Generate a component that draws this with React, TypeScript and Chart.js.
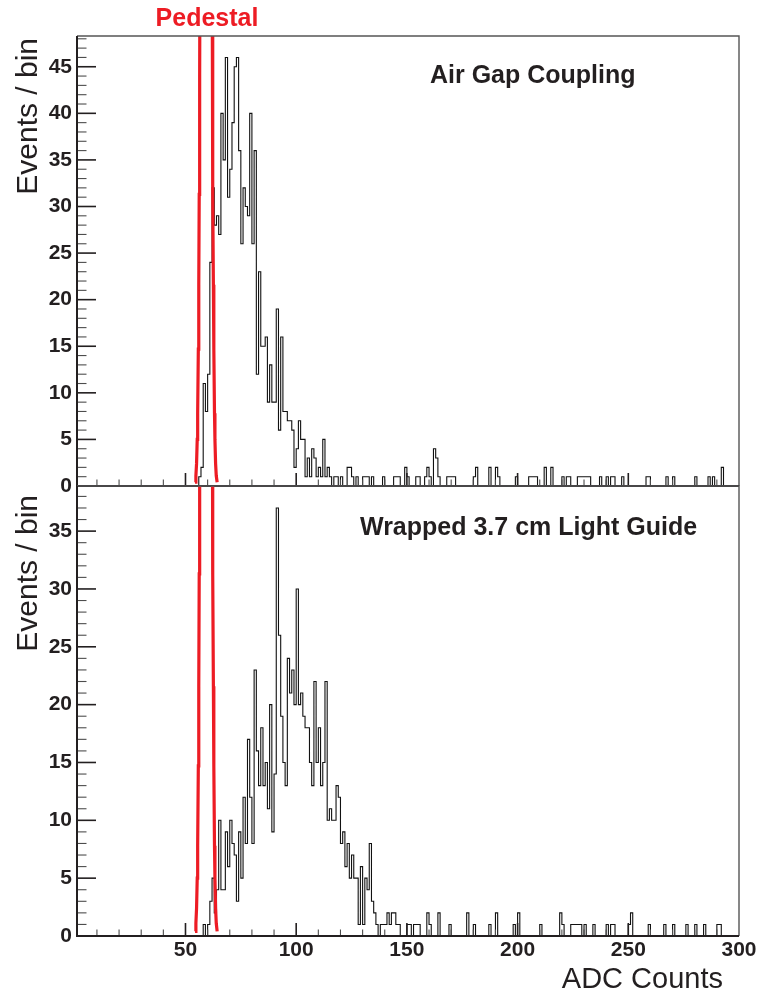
import React, { useEffect, useRef } from 'react';
import { Chart, registerables } from 'chart.js';

Chart.register(...registerables);

// ---------- axis ranges & tick labels ----------
const X_MIN = 1;
const X_MAX = 300;
const xTickLabels = [50, 100, 150, 200, 250, 300];
const yTicksTop = [0, 5, 10, 15, 20, 25, 30, 35, 40, 45];
const yTicksBottom = [0, 5, 10, 15, 20, 25, 30, 35];
const yMaxTop = 48.3;
const yMaxBottom = 38.9;

// ---------- Air Gap Coupling histogram (1 ADC count per bin) ----------
const airGapStart = 56;
const airGapCounts = [
  1, 2, 11, 8, 12, 24, 32, 28, 29, 27, // 56-65
  40, 35, 46, 31, 34, 39, 45, 46, 36, 26, // 66-75
  32, 30, 29, 40, 26, 36, 12, 23, 15, 15, // 76-85
  16, 9, 13, 9, 9, 19, 6, 16, 8, 8, // 86-95
  7, 7, 6, 2, 4, 7, 5, 5, 1, 3, // 96-105
  1, 4, 3, 1, 2, 1, 5, 1, 2, 1, // 106-115
  0, 1, 1, 0, 1, 0, 0, 2, 2, 1, // 116-125
  0, 1, 0, 0, 1, 1, 1, 0, 1, // 126-134
];
const airGapTailBins = [139, 144, 145, 146, 149, 150, 154, 155, 158, 159, 160, 162, 163, 164, 168, 169, 170, 171, 180, 181, 187, 190, 191, 199, 205, 206, 207, 208, 212, 215, 220, 222, 223, 227, 228, 229, 230, 231, 232, 237, 240, 242, 243, 247, 258, 259, 267, 270, 280, 286, 288, 292];
const airGapTailCounts = [1, 1, 1, 1, 2, 1, 1, 1, 1, 2, 1, 4, 3, 1, 1, 1, 1, 1, 1, 2, 2, 2, 1, 1, 1, 1, 1, 1, 2, 2, 1, 1, 1, 1, 1, 1, 1, 1, 1, 1, 1, 1, 1, 1, 1, 1, 1, 1, 1, 1, 1, 2];

// ---------- Wrapped 3.7 cm Light Guide histogram ----------
const lightGuideStart = 58;
const lightGuideCounts = [
  1, 0, 1, 3, 5, 2, 4, 10, 4, 4, // 58-67
  9, 6, 10, 8, 7, 3, 9, 5, 12, 8, // 68-77
  17, 12, 8, 23, 16, 13, 18, 13, 15, 11, // 78-87
  20, 9, 14, 37, 26, 19, 15, 13, 24, 21, // 88-97
  23, 20, 30, 20, 21, 19, 18, 18, 15, 13, // 98-107
  22, 15, 18, 13, 15, 22, 10, 11, 10, 10, // 108-117
  13, 12, 8, 9, 6, 8, 5, 7, 5, 5, // 118-127
  1, 6, 1, 5, 4, 8, 3, 2, 1, // 128-136
];
const lightGuideTailBins = [138, 139, 140, 141, 142, 143, 144, 145, 146, 150, 151, 153, 154, 155, 159, 160, 164, 169, 177, 180, 187, 190, 198, 200, 210, 219, 220, 224, 225, 226, 227, 228, 230, 234, 240, 242, 243, 250, 251, 259, 266, 270, 276, 280, 284, 290, 291];
const lightGuideTailCounts = [1, 1, 1, 2, 1, 2, 2, 1, 1, 1, 1, 1, 1, 1, 2, 1, 2, 1, 2, 1, 1, 2, 1, 2, 1, 2, 1, 1, 1, 1, 1, 1, 1, 1, 1, 1, 1, 1, 2, 1, 1, 1, 1, 1, 1, 1, 1];

// ---------- Pedestal fit curve ----------
const pedestalX = [54.3, 54.7, 55.0, 55.3, 55.5, 55.8, 56.0, 56.2, 56.4, 56.6, 57.0, 58.0, 59.3, 60.6, 61.6, 62.0, 62.2, 62.4, 62.6, 62.8, 63.1, 63.3, 63.6, 63.9, 64.3];
const pedestalY = [0.4, 1.1, 2.4, 5.0, 7.8, 14.7, 21.6, 31.3, 44.2, 60.9, 108, 304, 495, 304, 108, 60.9, 44.2, 31.3, 21.6, 14.7, 7.8, 5.0, 2.4, 1.1, 0.4];

const FONT = "'Liberation Sans', Arial, Helvetica, sans-serif";
const INK = '#231f20';
const RED = '#ed1c24';

function histogramPoints(start: number, counts: number[], tailBins: number[], tailCounts: number[]) {
  const bins: number[] = new Array(X_MAX - X_MIN).fill(0);
  counts.forEach((c, i) => { bins[start + i - X_MIN] = c; });
  tailBins.forEach((b, i) => { bins[b - X_MIN] = tailCounts[i]; });
  const pts = bins.map((c, i) => ({ x: X_MIN + i, y: c }));
  pts.push({ x: X_MAX, y: 0 });
  return pts;
}

type PanelSpec = {
  canvasTop: number;
  canvasHeight: number;
  padTop: number;
  xAxisHeight: number;
  yMax: number;
  yTicks: number[];
  showXLabels: boolean;
  hist: { x: number; y: number }[];
  texts: (ctx: CanvasRenderingContext2D) => void;
};

function drawRotated(ctx: CanvasRenderingContext2D, text: string, x: number, y: number) {
  ctx.save();
  ctx.translate(x, y);
  ctx.rotate(-Math.PI / 2);
  ctx.textAlign = 'right';
  ctx.textBaseline = 'alphabetic';
  ctx.fillText(text, 0, 0);
  ctx.restore();
}

function makeConfig(spec: PanelSpec): any {
  const framePlugin = {
    id: 'frameTicks',
    afterDatasetsDraw(chart: any) {
      const { ctx, chartArea: a, scales } = chart;
      const x = scales.x;
      const y = scales.y;
      ctx.save();
      // y ticks (inside, from left axis)
      for (let v = 0; v <= y.max; v += 1) {
        const py = y.getPixelForValue(v);
        const major = v % 5 === 0;
        ctx.strokeStyle = major ? INK : '#4d4d4d';
        ctx.lineWidth = major ? 1.6 : 1.1;
        ctx.beginPath();
        ctx.moveTo(a.left, py);
        ctx.lineTo(a.left + (major ? 19 : 9.5), py);
        ctx.stroke();
      }
      // x ticks (inside, from bottom axis)
      for (let v = 10; v < X_MAX; v += 10) {
        const px = x.getPixelForValue(v);
        const major = v % 50 === 0;
        ctx.strokeStyle = major ? INK : '#4d4d4d';
        ctx.lineWidth = major ? 1.6 : 1.1;
        ctx.beginPath();
        ctx.moveTo(px, a.bottom);
        ctx.lineTo(px, a.bottom - (major ? 13 : 6.5));
        ctx.stroke();
      }
      // frame: top & right thin grey
      ctx.strokeStyle = '#555555';
      ctx.lineWidth = 1.4;
      ctx.beginPath();
      ctx.moveTo(a.left, a.top);
      ctx.lineTo(a.right, a.top);
      ctx.lineTo(a.right, a.bottom);
      ctx.stroke();
      // axes: left & bottom dark
      ctx.strokeStyle = INK;
      ctx.lineWidth = 2;
      ctx.beginPath();
      ctx.moveTo(a.left, a.top);
      ctx.lineTo(a.left, a.bottom);
      ctx.lineTo(a.right, a.bottom);
      ctx.stroke();
      ctx.restore();
    },
    afterDraw(chart: any) {
      const ctx = chart.ctx as CanvasRenderingContext2D;
      ctx.save();
      spec.texts(ctx);
      ctx.restore();
    },
  };

  return {
    type: 'line',
    data: {
      datasets: [
        {
          label: 'Pedestal',
          data: pedestalX.map((px, i) => ({ x: px, y: pedestalY[i] })),
          borderColor: RED,
          borderWidth: 3.2,
          pointRadius: 0,
          tension: 0,
          fill: false,
        },
        {
          label: 'Events',
          data: spec.hist,
          borderColor: '#111111',
          borderWidth: 1.1,
          pointRadius: 0,
          stepped: 'before',
          fill: false,
        },
      ],
    },
    options: {
      responsive: false,
      maintainAspectRatio: false,
      animation: false,
      devicePixelRatio: 1,
      events: [],
      layout: { padding: { top: spec.padTop, right: 22, left: 0, bottom: 0 } },
      plugins: { legend: { display: false }, tooltip: { enabled: false }, title: { display: false } },
      scales: {
        x: {
          type: 'linear',
          min: X_MIN,
          max: X_MAX,
          grid: { display: false, drawTicks: false },
          border: { display: false },
          ticks: {
            display: spec.showXLabels,
            color: INK,
            padding: 2,
            maxRotation: 0,
            autoSkip: false,
            font: { family: FONT, size: 21, weight: 'bold' },
          },
          afterBuildTicks: (s: any) => { s.ticks = xTickLabels.map((v) => ({ value: v })); },
          afterFit: (s: any) => { s.height = spec.xAxisHeight; },
        },
        y: {
          type: 'linear',
          min: 0,
          max: spec.yMax,
          grid: { display: false, drawTicks: false },
          border: { display: false },
          ticks: {
            color: INK,
            padding: 5,
            font: { family: FONT, size: 21, weight: 'bold' },
          },
          afterBuildTicks: (s: any) => { s.ticks = spec.yTicks.map((v) => ({ value: v })); },
          afterFit: (s: any) => { s.width = 77; },
        },
      },
    },
    plugins: [framePlugin],
  };
}

const topSpec: PanelSpec = {
  canvasTop: 0,
  canvasHeight: 510,
  padTop: 36,
  xAxisHeight: 24,
  yMax: yMaxTop,
  yTicks: yTicksTop,
  showXLabels: false,
  hist: histogramPoints(airGapStart, airGapCounts, airGapTailBins, airGapTailCounts),
  texts: (ctx) => {
    ctx.fillStyle = RED;
    ctx.font = `bold 25px ${FONT}`;
    ctx.textAlign = 'center';
    ctx.textBaseline = 'alphabetic';
    ctx.fillText('Pedestal', 207, 26);
    ctx.fillStyle = INK;
    ctx.textAlign = 'left';
    ctx.fillText('Air Gap Coupling', 430, 83);
    ctx.font = `30px ${FONT}`;
    drawRotated(ctx, 'Events / bin', 37, 38);
  },
};

// bottom canvas starts at page y = 466
const bottomSpec: PanelSpec = {
  canvasTop: 466,
  canvasHeight: 529,
  padTop: 20,
  xAxisHeight: 59,
  yMax: yMaxBottom,
  yTicks: yTicksBottom,
  showXLabels: true,
  hist: histogramPoints(lightGuideStart, lightGuideCounts, lightGuideTailBins, lightGuideTailCounts),
  texts: (ctx) => {
    ctx.fillStyle = INK;
    ctx.font = `bold 25px ${FONT}`;
    ctx.textAlign = 'left';
    ctx.textBaseline = 'alphabetic';
    ctx.fillText('Wrapped 3.7 cm Light Guide', 360, 69);
    ctx.font = `30px ${FONT}`;
    drawRotated(ctx, 'Events / bin', 37, 29);
    ctx.font = `29px ${FONT}`;
    ctx.textAlign = 'right';
    ctx.fillText('ADC Counts', 723, 522);
  },
};

function Panel({ spec }: { spec: PanelSpec }) {
  const ref = useRef<HTMLCanvasElement>(null);
  useEffect(() => {
    const chart = new Chart(ref.current as HTMLCanvasElement, makeConfig(spec));
    return () => chart.destroy();
  }, [spec]);
  return (
    <canvas
      ref={ref}
      width={761}
      height={spec.canvasHeight}
      style={{ position: 'absolute', left: 0, top: spec.canvasTop, width: 761, height: spec.canvasHeight, display: 'block' }}
    />
  );
}

export default function App() {
  return (
    <div style={{ position: 'fixed', left: 0, top: 0, width: 761, height: 995, background: '#ffffff', overflow: 'hidden' }}>
      <Panel spec={topSpec} />
      <Panel spec={bottomSpec} />
    </div>
  );
}
